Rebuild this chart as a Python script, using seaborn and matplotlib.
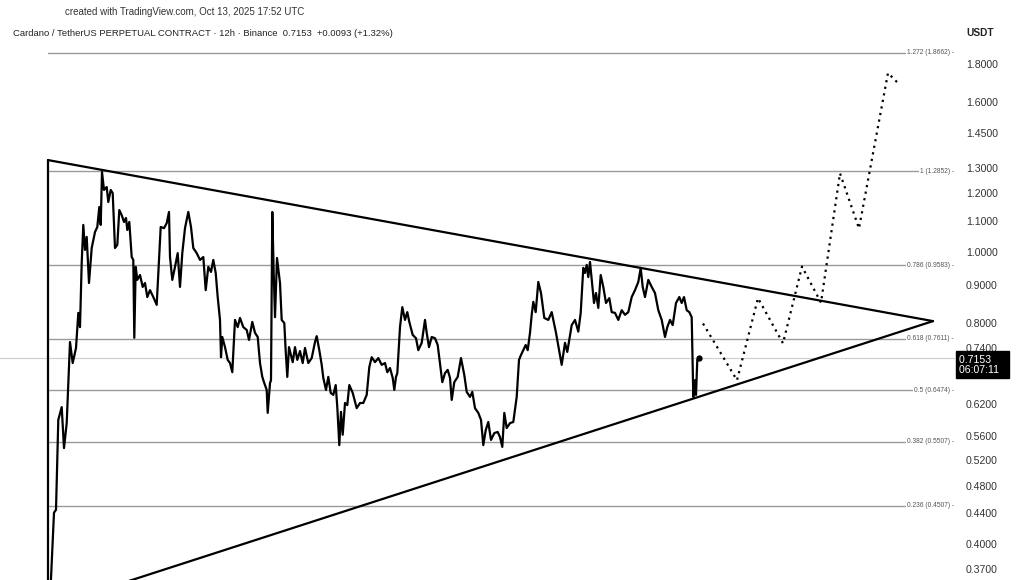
import numpy as np
import pandas as pd
import matplotlib
matplotlib.use("Agg")
import matplotlib.pyplot as plt
import seaborn as sns
from matplotlib.ticker import NullLocator, NullFormatter

sns.set_theme(style="white")
plt.rcParams["font.family"] = ["Liberation Sans", "DejaVu Sans"]

# ------------------------------------------------------------
# data (12h bars, x = bar position, price in USDT)
# ------------------------------------------------------------
bar = [50, 54, 56, 58.3, 61.7, 64, 66.7, 70, 72.7, 76, 78.3, 80, 81.7, 83.3, 85, 86.7,
       89, 91.7, 95, 97.3, 99.3, 100.7, 102, 104, 106.7, 108.3, 110.7, 112.7, 115, 117.3,
       119.3, 121.7, 124, 126, 127.3, 129.3, 131.7, 133.3, 134.3, 135.7, 137.3, 140, 142.7,
       145, 147.3, 150, 153.3, 156.7, 159, 160.7, 164, 166.7, 169, 170, 172.3, 175, 177.7,
       180, 182.3, 185, 188.3, 191, 193.3, 196.7, 200, 203.3, 205.7, 208.3, 211, 213.3,
       215.7, 217.7, 220, 221, 222.3, 225, 227.7, 230, 232.3, 235, 237.7, 240, 243.3, 246.7,
       249, 252.3, 255, 257.7, 260, 262.3, 264.3, 266.7, 267.7, 270, 271, 272.3, 273.7, 275,
       277, 280, 281.7, 284.3, 285.7, 287.3, 289, 292.7, 295, 297.3, 300, 302.7, 305, 308.3,
       311.7, 315, 316.7, 319.3, 321.7, 323.3, 326, 328.3, 330.7, 333.3, 335.7, 337.3, 339.3,
       341, 342.7, 345, 347.3, 349.3, 352.7, 356.7, 360, 363.3, 366.7, 369.3, 371.7, 375,
       378.3, 381.7, 385, 387.3, 390, 392.7, 394.3, 396, 397.3, 400, 402.3, 405, 407.3, 409.3,
       412.7, 416, 418.3, 421.7, 425, 426.7, 429, 431.7, 435, 437.7, 441, 442.3, 445, 447.7,
       450, 451.7, 454.3, 457.7, 461, 464.3, 466.7, 470, 472.3, 475, 478.3, 481, 483.3, 485.7,
       488.3, 491, 494.3, 497.7, 500, 502.3, 504.3, 506.7, 510, 513.3, 516.7, 519, 521, 523.3,
       525.7, 527.7, 530, 531.7, 533.3, 535.7, 538.3, 541, 544.3, 548.3, 551.7, 556, 559.3,
       561.7, 565, 567.3, 571.7, 575, 578.3, 580.7, 583.3, 585, 586.7, 588.3, 590, 591.7, 594,
       596, 598.3, 600.7, 603.3, 606, 609.3, 611.7, 615, 618.3, 621.7, 625, 628.3, 631.7, 635,
       638.3, 640.7, 642.7, 645, 648.3, 651.7, 655, 658.3, 661.7, 665, 667.3, 670, 672.7, 676,
       679.3, 681.7, 684, 686.7, 689.3, 691.7, 693.3, 695, 696, 697.3, 699]
price = [0.335, 0.441, 0.445, 0.590, 0.614, 0.540, 0.584, 0.753, 0.705, 0.739, 0.825, 0.789,
         0.965, 1.087, 1.005, 1.047, 0.906, 1.011, 1.063, 1.080, 1.150, 1.087, 1.283, 1.213,
         1.224, 1.168, 1.213, 1.201, 1.011, 1.021, 1.139, 1.121, 1.097, 1.111, 1.070, 1.097,
         0.983, 0.974, 0.763, 0.953, 0.915, 0.929, 0.895, 0.906, 0.867, 0.886, 0.867, 0.846,
         0.974, 1.080, 1.076, 1.093, 1.132, 0.983, 0.915, 0.953, 0.995, 0.895, 0.995, 1.076,
         1.132, 1.080, 1.011, 0.995, 0.974, 0.983, 0.886, 0.953, 0.938, 0.974, 0.935, 0.867,
         0.807, 0.718, 0.765, 0.741, 0.712, 0.705, 0.685, 0.807, 0.789, 0.812, 0.789, 0.782,
         0.758, 0.802, 0.775, 0.765, 0.705, 0.675, 0.662, 0.648, 0.603, 0.662, 0.668, 1.132,
         0.935, 0.814, 0.980, 0.906, 0.807, 0.799, 0.732, 0.675, 0.741, 0.707, 0.741, 0.712,
         0.732, 0.705, 0.739, 0.705, 0.716, 0.753, 0.767, 0.734, 0.701, 0.673, 0.648, 0.675,
         0.642, 0.638, 0.658, 0.614, 0.545, 0.605, 0.563, 0.622, 0.618, 0.658, 0.642, 0.612,
         0.622, 0.622, 0.638, 0.696, 0.718, 0.707, 0.716, 0.701, 0.705, 0.685, 0.694, 0.673,
         0.648, 0.675, 0.683, 0.789, 0.840, 0.807, 0.827, 0.802, 0.770, 0.762, 0.734, 0.751,
         0.807, 0.775, 0.741, 0.765, 0.762, 0.746, 0.685, 0.664, 0.683, 0.690, 0.673, 0.628,
         0.664, 0.675, 0.716, 0.679, 0.644, 0.634, 0.644, 0.612, 0.603, 0.590, 0.545, 0.571,
         0.586, 0.554, 0.566, 0.568, 0.559, 0.542, 0.603, 0.575, 0.584, 0.586, 0.634, 0.712,
         0.723, 0.734, 0.746, 0.734, 0.775, 0.820, 0.854, 0.827, 0.909, 0.878, 0.812, 0.807,
         0.827, 0.775, 0.732, 0.701, 0.751, 0.730, 0.794, 0.807, 0.778, 0.825, 0.950, 0.935,
         0.959, 0.923, 0.968, 0.915, 0.851, 0.878, 0.838, 0.929, 0.895, 0.851, 0.864, 0.827,
         0.825, 0.807, 0.832, 0.820, 0.827, 0.867, 0.886, 0.909, 0.950, 0.895, 0.867, 0.915,
         0.895, 0.878, 0.832, 0.807, 0.765, 0.789, 0.807, 0.794, 0.851, 0.867, 0.851, 0.867,
         0.832, 0.827, 0.814, 0.634, 0.668, 0.638, 0.712, 0.7153]

# projected path (dotted)
proj_bar = [703, 737, 758, 783, 802, 821, 840, 859, 888, 897]
proj_price = [0.798, 0.668, 0.864, 0.750, 0.954, 0.852, 1.278, 1.075, 1.750, 1.701]

# triangle
tri_start, tri_apex = 48, 933
tri_top, tri_bottom, tri_apex_price = 1.332, 0.328, 0.804

# fibonacci levels
fib_ratio = ["1.272", "1", "0.786", "0.618", "0.5", "0.382", "0.236"]
fib_price = [1.8662, 1.2852, 0.9583, 0.7611, 0.6474, 0.5507, 0.4507]

y_ticks = [1.8, 1.6, 1.45, 1.3, 1.2, 1.1, 1.0, 0.9, 0.8, 0.74, 0.68, 0.62, 0.56,
           0.52, 0.48, 0.44, 0.40, 0.37]
last_price = 0.7153

df = pd.DataFrame({"bar": bar, "price": price})
proj = pd.DataFrame({"bar": proj_bar, "price": proj_price})

# ------------------------------------------------------------
# figure
# ------------------------------------------------------------
W, H = 1021, 580
fig = plt.figure(figsize=(W / 100, H / 100), dpi=100)
fig.patch.set_facecolor("white")
ax = fig.add_axes([0, 0, 955 / W, (H - 22) / H])
ax.set_yscale("log")
ax.set_xlim(0, 955)
ax.set_ylim(0.3571, 2.0535)

# fib lines + labels
for r, p in zip(fib_ratio, fib_price):
    ax.plot([tri_start, 955], [p, p], color="#9a9a9a", lw=1.0, zorder=1)
    ax.text(0.999, p, f"{r} ({p:.4f}) -", transform=ax.get_yaxis_transform(),
            ha="right", va="center", fontsize=4.8, color="#555555", zorder=4,
            bbox=dict(boxstyle="square,pad=0.15", fc="white", ec="none"))

# current price line
ax.plot([0, 955], [last_price, last_price], color="#d0d0d0", lw=0.9, zorder=1)

# triangle
ax.plot([tri_start, tri_apex], [tri_top, tri_apex_price], color="black", lw=1.6, zorder=3)
ax.plot([tri_start, tri_apex], [tri_bottom, tri_apex_price], color="black", lw=1.6, zorder=3)
ax.plot([tri_start, tri_start], [tri_bottom, tri_top], color="black", lw=1.6, zorder=3)

# price line
sns.lineplot(data=df, x="bar", y="price", ax=ax, color="black", lw=1.6,
             estimator=None, sort=False, zorder=3)
ax.plot(bar[-1], price[-1], "o", color="black", ms=3.5, zorder=4)

# projection
sns.lineplot(data=proj, x="bar", y="price", ax=ax, color="black", lw=1.6,
             linestyle=(0, (1, 2.0)), estimator=None, sort=False, zorder=3)

# right price axis
ax.yaxis.tick_right()
ax.set_yticks(y_ticks)
ax.set_yticklabels([f"{t:.4f}" for t in y_ticks])
ax.yaxis.set_minor_locator(NullLocator())
ax.yaxis.set_minor_formatter(NullFormatter())
ax.tick_params(axis="y", length=0, pad=8, labelsize=7.6, labelcolor="#333333")
ax.set_xticks([])
ax.set_xlabel("")
ax.set_ylabel("")
for s in ax.spines.values():
    s.set_visible(False)

# last price tag (sits a little below the price, covering the 0.6800 label)
ax.annotate("0.7153     \n06:07:11  ", xy=(1.0045, last_price),
            xycoords=ax.get_yaxis_transform(), xytext=(0, -4.5),
            textcoords="offset points", ha="left", va="center",
            fontsize=7.6, color="white", linespacing=1.0, zorder=6,
            annotation_clip=False,
            bbox=dict(boxstyle="square,pad=0.3", fc="black", ec="black"))

# header texts
fig.text(65 / W, 1 - 12 / H, "created with TradingView.com, Oct 13, 2025 17:52 UTC",
         fontsize=7.0, color="#333333", va="center")
fig.text(13 / W, 1 - 33 / H,
         "Cardano / TetherUS PERPETUAL CONTRACT · 12h · Binance  0.7153  +0.0093 (+1.32%)",
         fontsize=6.8, color="#222222", va="center")
fig.text(966 / W, 1 - 33 / H, "USDT", fontsize=7.3, color="#222222",
         va="center", fontweight="bold")

fig.savefig("out.png", dpi=100, facecolor="white")
